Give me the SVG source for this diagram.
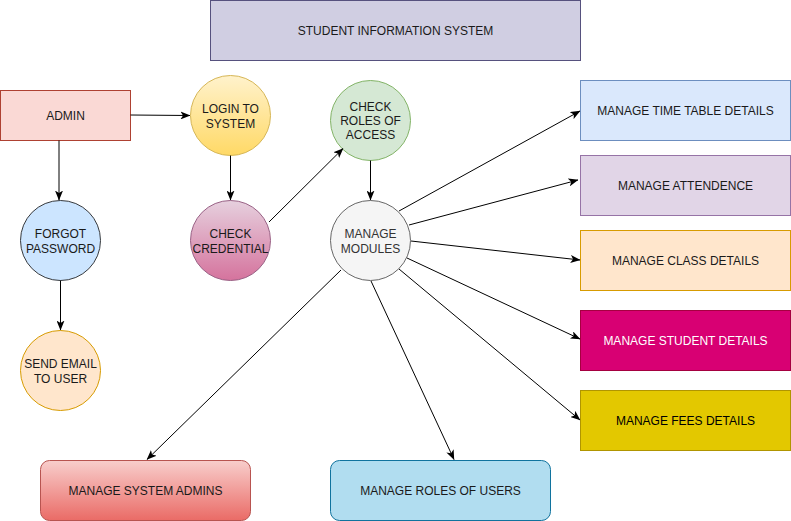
<svg xmlns="http://www.w3.org/2000/svg" width="791" height="521" viewBox="0 0 791 521">
<style>
text{font-family:"Liberation Sans",Arial,Helvetica,sans-serif;font-size:12px;text-anchor:middle;dominant-baseline:central;fill:#1a1a1a}
.c{stroke-width:1}
.e{fill:none;stroke:#000;stroke-width:1;marker-end:url(#a)}
</style>
<defs>
<marker id="a" markerUnits="userSpaceOnUse" markerWidth="10" markerHeight="8" viewBox="0 0 10 8" refX="9.5" refY="4" orient="auto">
<path d="M0,0 L10,4 L0,8 L2.5,4 Z" fill="#000"/>
</marker>
<linearGradient id="gLogin" x1="0" y1="0" x2="0" y2="1"><stop offset="0" stop-color="#fff2cc"/><stop offset="1" stop-color="#ffd966"/></linearGradient>
<linearGradient id="gCred" x1="0" y1="0" x2="0" y2="1"><stop offset="0" stop-color="#e6d0de"/><stop offset="1" stop-color="#d5739d"/></linearGradient>
<linearGradient id="gAdm" x1="0" y1="0" x2="0" y2="1"><stop offset="0" stop-color="#f8cecc"/><stop offset="1" stop-color="#ea6b66"/></linearGradient>
</defs>

<g id="title"><rect x="210.5" y="0.5" width="370" height="60" fill="#d0cee2" stroke="#56517e"/><text x="395.5" y="30.5">STUDENT INFORMATION SYSTEM</text></g>
<g id="admin"><rect x="0.5" y="90.5" width="130" height="50" fill="#fad9d5" stroke="#ae4132"/><text x="65.5" y="115.5">ADMIN</text></g>
<g id="login"><circle cx="230.5" cy="115.5" r="40" fill="url(#gLogin)" stroke="#d6b656"/><text x="230.5" y="108.5">LOGIN TO</text><text x="230.5" y="123.5">SYSTEM</text></g>
<g id="forgot"><circle cx="60.5" cy="240.5" r="40" fill="#cce5ff" stroke="#36393d"/><text x="60.5" y="233.5">FORGOT</text><text x="60.5" y="248.5">PASSWORD</text></g>
<g id="credential"><circle cx="230.5" cy="240.5" r="40" fill="url(#gCred)" stroke="#996185"/><text x="230.5" y="233.5">CHECK</text><text x="230.5" y="248.5">CREDENTIAL</text></g>
<g id="roles"><circle cx="370.5" cy="120.5" r="40" fill="#d5e8d4" stroke="#82b366"/><text x="370.5" y="106.5">CHECK</text><text x="370.5" y="120.5">ROLES OF</text><text x="370.5" y="135">ACCESS</text></g>
<g id="modules"><circle cx="370.5" cy="240.5" r="40" fill="#f5f5f5" stroke="#666666"/><text x="370.5" y="233.5" style="fill:#333333">MANAGE</text><text x="370.5" y="248.5" style="fill:#333333">MODULES</text></g>
<g id="email"><circle cx="60.5" cy="370.5" r="40" fill="#ffe6cc" stroke="#d79b00"/><text x="60.5" y="363.5">SEND EMAIL</text><text x="60.5" y="378.5">TO USER</text></g>

<g id="timetable"><rect x="580.5" y="80.5" width="210" height="60" fill="#dae8fc" stroke="#6c8ebf"/><text x="685.5" y="110.5">MANAGE TIME TABLE DETAILS</text></g>
<g id="attendence"><rect x="580.5" y="155.5" width="210" height="60" fill="#e1d5e7" stroke="#9673a6"/><text x="685.5" y="185.5">MANAGE ATTENDENCE</text></g>
<g id="class"><rect x="580.5" y="230.5" width="210" height="60" fill="#ffe6cc" stroke="#d79b00"/><text x="685.5" y="260.5">MANAGE CLASS DETAILS</text></g>
<g id="student"><rect x="580.5" y="310.5" width="210" height="60" fill="#d80073" stroke="#a50040"/><text x="685.5" y="340.5" style="fill:#ffffff">MANAGE STUDENT DETAILS</text></g>
<g id="fees"><rect x="580.5" y="390.5" width="210" height="60" fill="#e3c800" stroke="#b09500"/><text x="685.5" y="420.5" style="fill:#000000">MANAGE FEES DETAILS</text></g>
<g id="sysadmins"><rect x="40.5" y="460.5" width="210" height="60" rx="9" fill="url(#gAdm)" stroke="#b85450"/><text x="145.5" y="490.5">MANAGE SYSTEM ADMINS</text></g>
<g id="roleusers"><rect x="330.5" y="460.5" width="220" height="60" rx="9" fill="#b1ddf0" stroke="#10739e"/><text x="440.5" y="490.5">MANAGE ROLES OF USERS</text></g>

<g id="connectors">
<line class="e" x1="130.5" y1="115" x2="190" y2="115.5"/>
<line class="e" x1="59" y1="140.5" x2="59" y2="200"/>
<line class="e" x1="60.5" y1="280.5" x2="60.5" y2="330"/>
<line class="e" x1="230.5" y1="155.5" x2="230.5" y2="200"/>
<line class="e" x1="269" y1="222" x2="343" y2="148.5"/>
<line class="e" x1="370.5" y1="160.5" x2="370.5" y2="200"/>
<line class="e" x1="399" y1="211" x2="580" y2="111"/>
<line class="e" x1="409" y1="225" x2="578" y2="180"/>
<line class="e" x1="411" y1="241" x2="580" y2="260"/>
<line class="e" x1="407" y1="258" x2="580" y2="339"/>
<line class="e" x1="399" y1="269" x2="580" y2="420"/>
<line class="e" x1="341" y1="270" x2="147" y2="459.5"/>
<line class="e" x1="371" y1="281" x2="454" y2="459.5"/>
</g>
</svg>
